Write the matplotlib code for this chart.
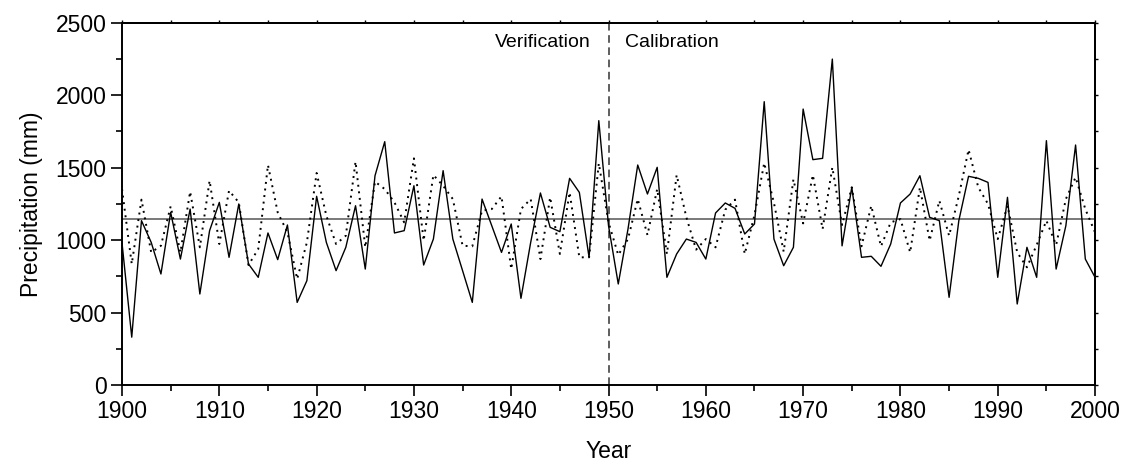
import numpy as np
import matplotlib
matplotlib.use("Agg")
import matplotlib.pyplot as plt
from matplotlib.ticker import MultipleLocator

plt.rcParams['font.family'] = ['Liberation Sans', 'DejaVu Sans']

# Data
years = np.arange(1900, 2001)
observed = [980, 330, 1134, 984, 766, 1191, 869, 1214, 628, 1065,
            1260, 881, 1249, 835, 743, 1049, 865, 1104, 570, 720,
            1302, 984, 789, 950, 1237, 800, 1444, 1679, 1049, 1065,
            1375, 828, 1007, 1479, 1007, 789, 570, 1283, 1099, 915,
            1111, 598, 984, 1325, 1088, 1058, 1426, 1329, 881, 1824,
            1099, 697, 1076, 1518, 1318, 1502, 743, 904, 1007, 984,
            869, 1187, 1256, 1219, 1042, 1111, 1955, 1007, 823, 950,
            1904, 1555, 1564, 2249, 960, 1364, 881, 888, 819, 973,
            1256, 1318, 1444, 1157, 1134, 605, 1134, 1440, 1426, 1398,
            743, 1295, 559, 950, 743, 1686, 800, 1099, 1656, 869,
            743]
reconstructed = [1352, 835, 1279, 915, 961, 1233, 915, 1334, 950, 1410,
                 973, 1341, 1260, 828, 938, 1518, 1191, 1053, 731, 984,
                 1463, 1168, 973, 1030, 1541, 950, 1403, 1352, 1260, 1122,
                 1564, 996, 1449, 1375, 1283, 961, 957, 1203, 1214, 1302,
                 800, 1214, 1283, 869, 1295, 904, 1329, 881, 881, 1530,
                 1122, 897, 1007, 1283, 1035, 1352, 904, 1449, 1157, 934,
                 1007, 950, 1210, 1279, 904, 1173, 1532, 1256, 920, 1419,
                 1115, 1449, 1076, 1502, 1104, 1364, 957, 1237, 957, 1122,
                 1145, 915, 1364, 996, 1272, 1030, 1306, 1624, 1364, 1249,
                 1007, 1237, 915, 812, 966, 1134, 966, 1283, 1433, 1214,
                 1053]
mean_precip = 1145
split_year = 1950

fig = plt.figure(figsize=(11.35, 4.75), dpi=100)
ax = fig.add_axes([0.1075, 0.1895, 0.8573, 0.7627])

ax.axhline(mean_precip, color='#555555', lw=1.1, zorder=1)
ax.axvline(split_year, color='#333333', lw=1.1, ls=(0, (5, 3)), zorder=1)
ax.plot(years, reconstructed, color='black', lw=1.4, ls=(0, (1, 2.4)), zorder=2)
ax.plot(years, observed, color='black', lw=1.0, zorder=3)

ax.text(split_year - 1.8, 2420, 'Verification', ha='right', va='top', fontsize=14)
ax.text(split_year + 1.7, 2420, 'Calibration', ha='left', va='top', fontsize=14)

ax.set_xlim(1900, 2000)
ax.set_ylim(0, 2500)
ax.xaxis.set_major_locator(MultipleLocator(10))
ax.xaxis.set_minor_locator(MultipleLocator(5))
ax.yaxis.set_major_locator(MultipleLocator(500))
ax.yaxis.set_minor_locator(MultipleLocator(250))
ax.tick_params(which='major', direction='out', length=8, width=1.2, labelsize=16.5, pad=3)
ax.tick_params(which='minor', direction='out', length=4.5, width=1.2)

# small ticks on top and right
secx = ax.secondary_xaxis('top')
secx.xaxis.set_major_locator(MultipleLocator(5))
secx.tick_params(direction='out', length=2, width=1.0, labeltop=False)
secy = ax.secondary_yaxis('right')
secy.yaxis.set_major_locator(MultipleLocator(250))
secy.tick_params(direction='out', length=2, width=1.0, labelright=False)
for s in list(ax.spines.values()) + [secx.spines['top'], secy.spines['right']]:
    s.set_linewidth(1.4)

ax.set_xlabel('Year', fontsize=16.5, labelpad=12)
ax.set_ylabel('Precipitation (mm)', fontsize=16.5, labelpad=9)

fig.savefig('out.png', dpi=100)
